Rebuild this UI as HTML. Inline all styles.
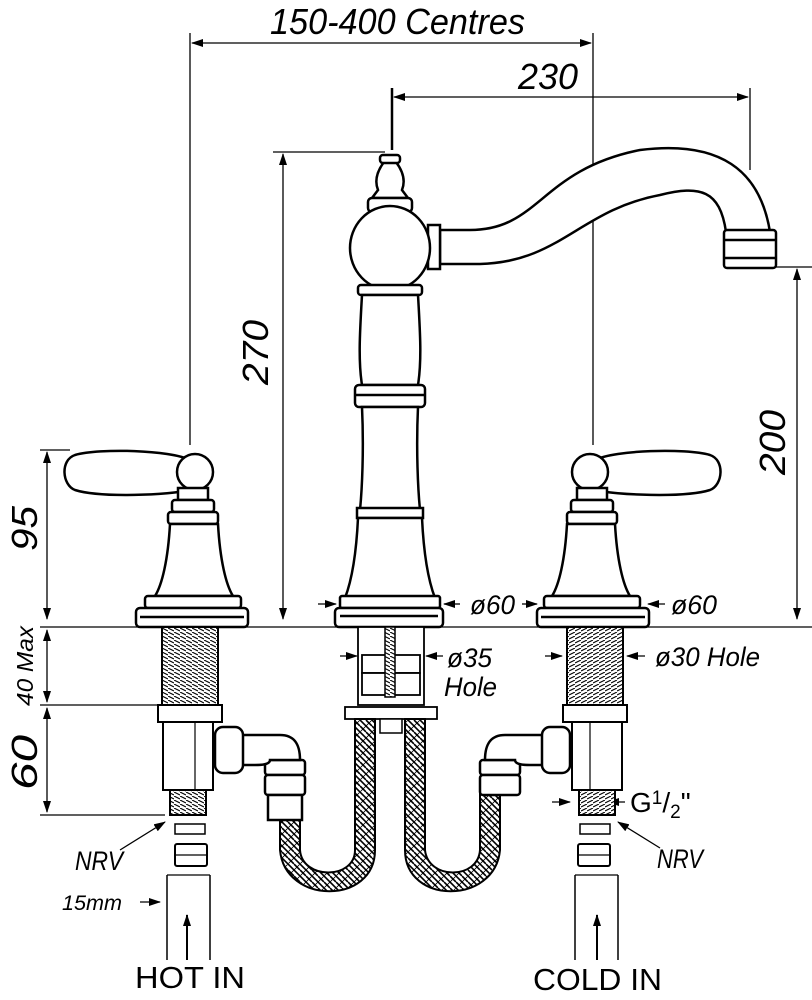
<!DOCTYPE html>
<html><head><style>
html,body{margin:0;padding:0;background:#fff}
svg{display:block}
text{font-family:"Liberation Sans",sans-serif;font-style:italic;fill:#000}
</style></head><body>
<svg width="812" height="1000" viewBox="0 0 812 1000" xmlns="http://www.w3.org/2000/svg">
<defs>
<marker id="a" markerWidth="12" markerHeight="8" refX="11" refY="4" orient="auto-start-reverse" markerUnits="userSpaceOnUse"><path d="M0,0 L12,4 L0,8 Z" fill="#000"/></marker>
<pattern id="braid" width="12" height="12" patternUnits="userSpaceOnUse">
<rect width="12" height="12" fill="#fff"/>
<path d="M0,0 L12,12 M0,6 L6,12 M6,0 L12,6" stroke="#000" stroke-width="1.6"/>
<path d="M12,0 L0,12" stroke="#000" stroke-width="0.8"/>
</pattern>
<pattern id="thr" width="6" height="4" patternUnits="userSpaceOnUse">
<rect width="6" height="4" fill="#fff"/><path d="M0,0 L6,3" stroke="#000" stroke-width="1.1"/>
</pattern>
</defs>
<g fill="none" stroke="#000" stroke-width="1.3">
<line x1="190" y1="33" x2="190" y2="445"/>
<line x1="593" y1="33" x2="593" y2="445"/>
<line x1="192" y1="43" x2="591" y2="43" marker-start="url(#a)" marker-end="url(#a)"/>
<line x1="392" y1="88" x2="392" y2="150" stroke-width="2.5"/>
<line x1="750" y1="88" x2="750" y2="170"/>
<line x1="394" y1="97" x2="748" y2="97" marker-start="url(#a)" marker-end="url(#a)"/>
<line x1="273" y1="152" x2="385" y2="152"/>
<line x1="283" y1="154" x2="283" y2="619" marker-start="url(#a)" marker-end="url(#a)"/>
<line x1="775" y1="267" x2="812" y2="267"/>
<line x1="797" y1="269" x2="797" y2="619" marker-start="url(#a)" marker-end="url(#a)"/>
<line x1="40" y1="450" x2="70" y2="450"/>
<line x1="47" y1="452" x2="47" y2="619" marker-start="url(#a)" marker-end="url(#a)"/>
<line x1="40" y1="627" x2="812" y2="627"/>
<line x1="47" y1="630" x2="47" y2="702" marker-start="url(#a)" marker-end="url(#a)"/>
<line x1="40" y1="705" x2="160" y2="705"/>
<line x1="47" y1="708" x2="47" y2="812" marker-start="url(#a)" marker-end="url(#a)"/>
<line x1="40" y1="815" x2="165" y2="815"/>
<line x1="318" y1="604" x2="336" y2="604" marker-end="url(#a)"/>
<line x1="460" y1="604" x2="444" y2="604" marker-end="url(#a)"/>
<line x1="522" y1="604" x2="537" y2="604" marker-end="url(#a)"/>
<line x1="665" y1="604" x2="648" y2="604" marker-end="url(#a)"/>
<line x1="340" y1="656" x2="357" y2="656" marker-end="url(#a)"/>
<line x1="443" y1="656" x2="426" y2="656" marker-end="url(#a)"/>
<line x1="545" y1="656" x2="562" y2="656" marker-end="url(#a)"/>
<line x1="645" y1="656" x2="627" y2="656" marker-end="url(#a)"/>
<line x1="552" y1="802" x2="570" y2="802" marker-end="url(#a)"/>
<line x1="625" y1="802" x2="608" y2="802" marker-end="url(#a)"/>
<line x1="140" y1="902" x2="160" y2="902" marker-end="url(#a)"/>
<line x1="120" y1="850" x2="165" y2="822" marker-end="url(#a)"/>
<line x1="660" y1="848" x2="618" y2="822" marker-end="url(#a)"/>
<line x1="187" y1="960" x2="187" y2="915" stroke-width="2" marker-end="url(#a)"/>
<line x1="597" y1="960" x2="597" y2="915" stroke-width="2" marker-end="url(#a)"/>
</g>

<g fill="#fff" stroke="#000" stroke-width="2.5">
<path d="M440,230 L470,230 C540,230 540,170 640,150 C720,140 760,170 770,232 L726,232 C720,190 700,185 660,195 C580,210 560,262 480,264 L440,264 Z"/>
<rect x="724" y="230" width="52" height="38" rx="3"/>
<line x1="724" y1="240" x2="776" y2="240"/><line x1="724" y1="258" x2="776" y2="258"/>
<rect x="428" y="225" width="12" height="44"/>
<path d="M384,162 C378,170 374,180 378,190 L372,198 L408,198 L402,190 C406,180 402,170 396,162 Z"/>
<rect x="380" y="155" width="20" height="8" rx="3"/>
<rect x="368" y="198" width="44" height="14" rx="4"/>
<ellipse cx="390" cy="248" rx="40" ry="42"/>
<rect x="358" y="285" width="64" height="10" rx="3"/>
<path d="M362,295 C360,330 358,360 362,385 L418,385 C422,360 420,330 418,295 Z"/>
<rect x="355" y="385" width="70" height="22" rx="4"/>
<line x1="355" y1="395" x2="425" y2="395"/>
<path d="M362,407 C364,450 362,490 360,510 L420,510 C418,490 416,450 418,407 Z"/>
<rect x="357" y="508" width="66" height="10"/>
<path d="M358,518 C356,560 350,585 345,598 L435,598 C430,585 424,560 422,518 Z"/>
<rect x="340" y="596" width="100" height="12" rx="2"/>
<rect x="335" y="608" width="108" height="19" rx="4"/>
<line x1="340" y1="616" x2="438" y2="616"/>
<rect x="358" y="627" width="66" height="78" stroke-width="1.8"/>
<rect x="362" y="655" width="58" height="18" stroke-width="1.8"/>
<rect x="362" y="673" width="58" height="22" stroke-width="1.8"/>
<rect x="385" y="627" width="10" height="70" fill="url(#thr)" stroke-width="1.5"/>
<rect x="345" y="707" width="92" height="12" stroke-width="1.8"/>
<path d="M375,719 L375,850 C375,905 285,905 280,850 L280,820 L300,820 L300,850 C302,880 355,880 355,850 L355,719 Z" fill="url(#braid)" stroke-width="2"/>
<path d="M405,719 L405,850 C405,905 495,905 500,850 L500,790 L480,790 L480,850 C478,880 428,880 425,850 L425,719 Z" fill="url(#braid)" stroke-width="2"/>
<rect x="380" y="719" width="22" height="14" stroke-width="1.5"/>
<rect x="265" y="760" width="40" height="15" rx="3"/>
<rect x="265" y="775" width="40" height="20" rx="3"/>
<rect x="268" y="795" width="34" height="25"/>
<path d="M240,735 L280,735 C295,735 300,745 300,760 L270,760 C270,765 260,765 255,765 L240,765 Z"/>
<rect x="215" y="727" width="28" height="46" rx="8"/>
<rect x="480" y="760" width="40" height="15" rx="3"/>
<rect x="480" y="775" width="40" height="20" rx="3"/>
<path d="M545,735 L505,735 C490,735 485,745 485,760 L515,760 C515,765 525,765 530,765 L545,765 Z"/>
<rect x="542" y="727" width="28" height="46" rx="8"/>
</g>

<g id="h" fill="#fff" stroke="#000" stroke-width="2.5">
<path d="M75,455 C100,448 170,450 190,460 L190,490 C170,495 100,498 75,490 C62,485 60,460 75,455 Z"/>
<circle cx="195" cy="472" r="18"/>
<rect x="178" y="488" width="30" height="12"/>
<rect x="172" y="500" width="42" height="12" rx="3"/>
<rect x="168" y="512" width="50" height="12" rx="3"/>
<path d="M170,524 C168,560 162,585 155,596 L233,596 C226,585 220,560 218,524 Z"/>
<rect x="145" y="596" width="96" height="12" rx="3"/>
<rect x="136" y="608" width="112" height="19" rx="4"/>
<line x1="140" y1="617" x2="244" y2="617"/>
<rect x="162" y="627" width="56" height="78" fill="url(#thr)" stroke-width="2"/>
<rect x="158" y="705" width="64" height="17" stroke-width="2"/>
<rect x="163" y="722" width="50" height="68" stroke-width="2"/>
<line x1="195" y1="722" x2="195" y2="790" stroke-width="1.2"/>
<rect x="170" y="790" width="36" height="25" fill="url(#thr)" stroke-width="2"/>
<rect x="175" y="824" width="30" height="10" stroke-width="1.5"/>
<rect x="175" y="844" width="32" height="22" rx="2" stroke-width="2"/>
<line x1="175" y1="855" x2="207" y2="855" stroke-width="1.2"/>
<path d="M167,875 L167,960 M210,875 L210,960" stroke-width="1.5"/>
<line x1="167" y1="875" x2="210" y2="875" stroke-width="1.2"/>
</g>
<use href="#h" transform="translate(785,0) scale(-1,1)"/>

<g font-size="36">
<text x="270" y="34" textLength="255" lengthAdjust="spacingAndGlyphs">150-400 Centres</text>
<text x="518" y="89" textLength="60" lengthAdjust="spacingAndGlyphs">230</text>
<text transform="translate(268,385) rotate(-90)" textLength="65" lengthAdjust="spacingAndGlyphs">270</text>
<text transform="translate(785,475) rotate(-90)" textLength="65" lengthAdjust="spacingAndGlyphs">200</text>
<text transform="translate(37,551) rotate(-90)" textLength="45" lengthAdjust="spacingAndGlyphs">95</text>
<text transform="translate(37,790) rotate(-90)" textLength="55" lengthAdjust="spacingAndGlyphs">60</text>
</g>
<text transform="translate(33,706) rotate(-90)" font-size="23" textLength="80" lengthAdjust="spacingAndGlyphs">40 Max</text>
<g font-size="27">
<text x="470" y="614" textLength="45" lengthAdjust="spacingAndGlyphs">ø60</text>
<text x="671" y="614" textLength="46" lengthAdjust="spacingAndGlyphs">ø60</text>
<text x="447" y="667" textLength="45" lengthAdjust="spacingAndGlyphs">ø35</text>
<text x="444" y="696" textLength="53" lengthAdjust="spacingAndGlyphs">Hole</text>
<text x="655" y="666" textLength="105" lengthAdjust="spacingAndGlyphs">ø30 Hole</text>
<text x="75" y="870" textLength="48" lengthAdjust="spacingAndGlyphs">NRV</text>
<text x="657" y="868" textLength="46" lengthAdjust="spacingAndGlyphs">NRV</text>
<text x="62" y="910" font-size="21" textLength="60" lengthAdjust="spacingAndGlyphs">15mm</text>
</g>
<text x="630" y="812" font-size="28" style="font-style:normal">G<tspan font-size="19" dy="-8">1</tspan><tspan dy="8">/</tspan><tspan font-size="19" dy="6">2</tspan><tspan dy="-6">"</tspan></text>
<text x="135" y="988" font-size="31" textLength="110" lengthAdjust="spacingAndGlyphs" style="font-style:normal">HOT IN</text>
<text x="533" y="990" font-size="31" textLength="129" lengthAdjust="spacingAndGlyphs" style="font-style:normal">COLD IN</text>
</svg>
</body></html>
